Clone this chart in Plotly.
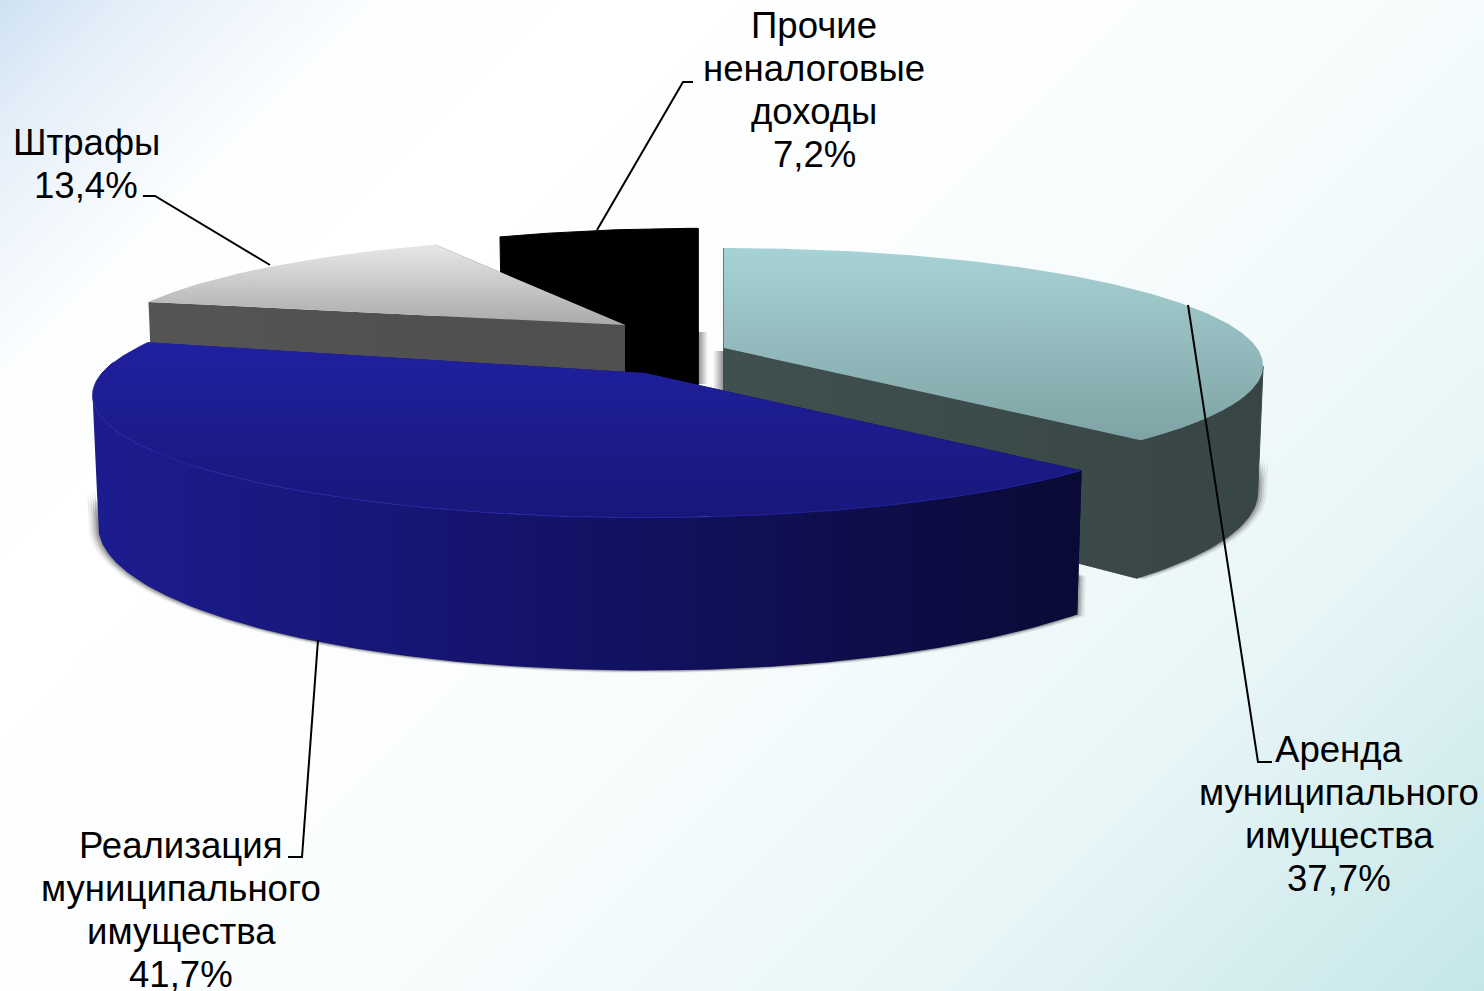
import numpy as np
import plotly.graph_objects as go

# ---- data ----
categories = [["Аренда", "муниципального", "имущества"],
              ["Реализация", "муниципального", "имущества"],
              ["Штрафы"],
              ["Прочие", "неналоговые", "доходы"]]
shares = [37.7, 41.7, 13.4, 7.2]

# ---- slice geometry / style ----
centers_x = [724, 645, 634, 698]
centers_y = [348, 373, 331, 328]
apex_x = [724, 645, 625, 698]
apex_y = [348, 373, 325, 328]
radii_x = [533, 543, 530, 528]
radii_y = [115, 118, 112, 118]
persp = [0.15, 0.184, 0.184, 0.184]
depths = [124, 126, 124, 124]
base_f = 0.99      # bottom ring shrink

top_grad = [("#a7d2d5", "#7fa3a5", 250, 440),
            ("#2020a0", "#17177a", 345, 520),
            ("#e9e9e9", "#a9a9a9", 242, 326),
            ("#000000", "#000000", 228, 340)]
wall_colors = [["#40504f", "#374645"],
               ["#1c1c90", "#121265", "#0a0a36"],
               ["#555555", "#505050"],
               ["#000000", "#000000"]]
seam_colors = ["#394847", None, None, "#000000"]

label_x = [1339, 181, 86, 814]
label_y0 = [749, 845, 142, 25]   # centre of first line
line_pitch = 43.2
leaders = [[(1188, 305), (1258, 762), (1272, 762)],
           [(318, 640), (302, 857), (288, 857)],
           [(143, 196), (155, 196), (270, 265)],
           [(693, 82), (683, 82), (597, 230)]]

# ---- angles from the values ----
edges = np.radians(np.concatenate([[0], np.cumsum(shares)]) * 3.6)


def project(i, th, z=0.0, grow=1.0):
    k = persp[i]
    s = 1 / (1 + k * np.cos(th))
    f = 1 - (1 - base_f) * z
    x = centers_x[i] + radii_x[i] * np.sin(th) * s * f * grow
    y = centers_y[i] - radii_y[i] * np.cos(th) * s * f * grow + depths[i] * z * s
    return x, y


def poly(x, y, grad=None, color=None, opacity=1.0, seam=None):
    line = dict(width=1, color=seam) if seam else dict(width=0)
    d = dict(x=np.r_[x, x[0]], y=np.r_[y, y[0]], mode="lines", fill="toself",
             line=line, hoverinfo="skip", showlegend=False, opacity=opacity)
    if grad:
        d["fillgradient"] = grad
        d["fillcolor"] = "rgba(0,0,0,0)"
    else:
        d["fillcolor"] = color
    return go.Scatter(**d)


def scale(colors):
    return [[j / (len(colors) - 1), c] for j, c in enumerate(colors)]


traces = []

# background: diagonal gradient
bx = np.linspace(-20, 1504, 40)
by = np.linspace(-20, 1011, 30)
bz = (bx[None, :] + by[:, None]) / (1484 + 991)
traces.append(go.Heatmap(x=bx, y=by, z=bz, zmin=0, zmax=1, zsmooth="best", showscale=False,
                         hoverinfo="skip",
                         colorscale=[[0, "#cfe2f3"], [0.06, "#e6f0f9"], [0.15, "#fbfdfe"],
                                     [0.25, "#ffffff"], [0.45, "#fbfdfe"], [0.6, "#f5fbfc"],
                                     [0.78, "#e7f5f7"], [1, "#c5e6e8"]]))

# soft shadows under the outer walls
for i in [0, 1]:
    th = np.linspace(edges[i], edges[i + 1], 200)
    th = th[np.cos(th) < -persp[i]]
    for grow, op in [(1.017, 0.10), (1.012, 0.14), (1.008, 0.22), (1.004, 0.3)]:
        xb, yb = project(i, th, 1.0, grow)
        xt, yt = project(i, th[::-1], 0.72, grow)
        traces.append(poly(np.r_[xb, xt], np.r_[yb, yt], color="#555555", opacity=op))

# small blurred shadows in the gap between the black and teal slices
gap_x = [[698, 708], [713, 724]]
gap_y = [[332, 384], [351, 392]]
traces.append(poly(np.array([gap_x[0][0], gap_x[0][1], gap_x[0][1], gap_x[0][0]]),
                   np.array([gap_y[0][0], gap_y[0][0], gap_y[0][1], gap_y[0][1]]),
                   grad=dict(type="horizontal", start=gap_x[0][0], stop=gap_x[0][1],
                             colorscale=[[0, "rgba(120,120,120,0.85)"], [1, "rgba(120,120,120,0)"]])))
traces.append(poly(np.array([gap_x[1][0], gap_x[1][1], gap_x[1][1], gap_x[1][0]]),
                   np.array([gap_y[1][0], gap_y[1][0], gap_y[1][1], gap_y[1][1]]),
                   grad=dict(type="horizontal", start=gap_x[1][0], stop=gap_x[1][1],
                             colorscale=[[0, "rgba(120,120,120,0)"], [1, "rgba(120,120,120,0.85)"]])))

# paint order: back slices first
for i in [3, 2, 0, 1]:
    th = np.linspace(edges[i], edges[i + 1], 200)
    ax, ay = apex_x[i], apex_y[i]
    xa, ya = project(i, th)
    wall = dict(type="horizontal", colorscale=scale(wall_colors[i]), start=xa.min(), stop=xa.max())
    # outer wall: only the part that faces the viewer
    front = th[np.cos(th) < -persp[i]]
    if front.size:
        xf, yf = project(i, front)
        xb, yb = project(i, front[::-1], 1.0)
        traces.append(poly(np.r_[xf, xb], np.r_[yf, yb], grad=wall, seam=seam_colors[i]))
    # cut faces
    for e in (edges[i], edges[i + 1]):
        xe, ye = project(i, e)
        xd, yd = project(i, e, 1.0)
        traces.append(poly(np.array([ax, xe, xd, ax]), np.array([ay, ye, yd, ay + depths[i]]),
                           grad=wall, seam=seam_colors[i]))
    # top surface
    c0, c1, y0, y1 = top_grad[i]
    traces.append(poly(np.r_[ax, xa], np.r_[ay, ya],
                       grad=dict(type="vertical", colorscale=[[0, c0], [1, c1]], start=y0, stop=y1),
                       seam="#000000" if i == 3 else None))
    # fine rim line on the front of the blue slice
    if i == 1:
        mask = np.cos(th) < 0.1
        traces.append(go.Scatter(x=xa[mask], y=ya[mask], mode="lines", hoverinfo="skip",
                                 showlegend=False, line=dict(color="#2424a2", width=1)))

# leader lines
for pts in leaders:
    traces.append(go.Scatter(x=[p[0] for p in pts], y=[p[1] for p in pts], mode="lines",
                             hoverinfo="skip", showlegend=False,
                             line=dict(color="#000000", width=2)))

annotations = []
for i in range(4):
    lines = categories[i] + [str(shares[i]).replace(".", ",") + "%"]
    for j, t in enumerate(lines):
        annotations.append(dict(x=label_x[i], y=label_y0[i] + j * line_pitch, xref="x", yref="y",
                                showarrow=False, xanchor="center", yanchor="middle", text=t,
                                font=dict(family="Liberation Sans", size=36.6, color="#000000")))

fig = go.Figure(traces)
fig.update_layout(width=1484, height=991, margin=dict(l=0, r=0, t=0, b=0),
                  paper_bgcolor="#ffffff", plot_bgcolor="#ffffff", showlegend=False,
                  annotations=annotations,
                  xaxis=dict(visible=False, range=[0, 1484], fixedrange=True),
                  yaxis=dict(visible=False, range=[991, 0], fixedrange=True))
fig.write_html("out.html", config=dict(displayModeBar=False),
               post_script="document.body.style.margin='0';document.body.style.overflow='hidden';")
